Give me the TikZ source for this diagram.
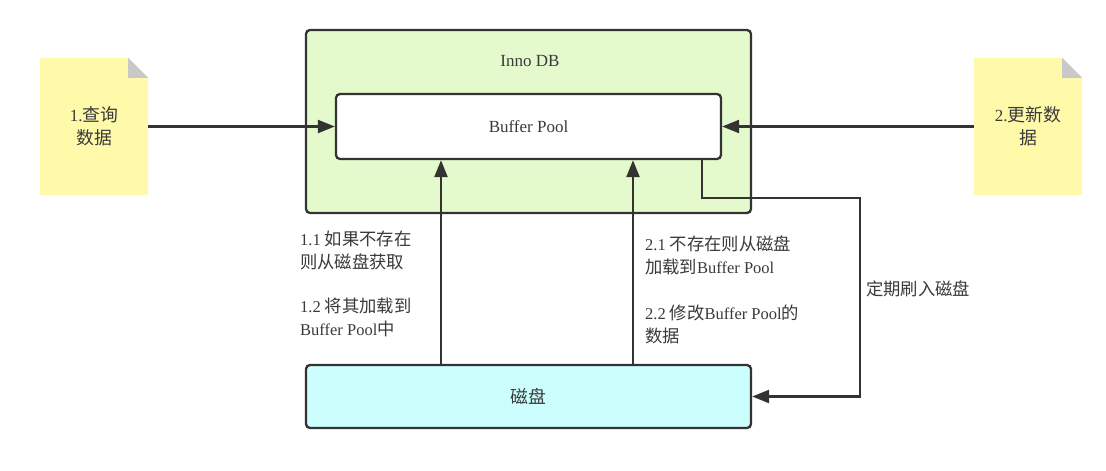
\documentclass[tikz,border=0pt]{standalone}
\usepackage{fontspec}
\setmainfont{Liberation Serif}
\newfontfamily\cjk{Noto Sans CJK SC}[Scale=1.05]
\usetikzlibrary{arrows.meta,backgrounds}
\definecolor{linec}{HTML}{333333}
\definecolor{textc}{HTML}{3A3A3A}
\definecolor{greenf}{HTML}{E4FACD}
\definecolor{cyanf}{HTML}{CCFEFE}
\definecolor{notef}{HTML}{FFF9AA}
\definecolor{foldf}{HTML}{C8C8C8}
\tikzset{
  box/.style={draw=linec, line width=2.3pt, rounded corners=4pt, text=textc, font=\fontsize{17}{20}\selectfont},
  notebox/.style={minimum width=108pt, minimum height=137pt, inner sep=0pt, text=textc, align=center, font=\fontsize{17}{23}\selectfont},
  lbl/.style={text=textc, align=left, inner sep=0pt, font=\fontsize{16.5}{23}\selectfont},
  arr/.style={draw=linec, line width=2.3pt, -{Triangle[length=17pt,width=13pt]}},
}
\begin{document}
\begin{tikzpicture}[x=1pt,y=1pt]
\useasboundingbox (0,0) rectangle (1106,-471);
% containers
\node[box, fill=greenf, minimum width=445pt, minimum height=183pt] (innodb) at (528.5,-121.5) {};
\node[text=textc, font=\fontsize{17}{20}\selectfont] (title) at (530,-61) {Inno DB};
\node[box, fill=white, minimum width=385pt, minimum height=65pt] (bp) at (528.5,-126.5) {Buffer Pool};
\node[box, fill=cyanf, minimum width=445pt, minimum height=63pt] (disk) at (528.5,-396.5) {\cjk 磁盘};
% notes
\node[notebox] (noteq) at (94,-126.5) {1.{\cjk 查询}\\{\cjk 数据}};
\node[notebox] (noteu) at (1028,-126.5) {2.{\cjk 更新数}\\{\cjk 据}};
\begin{scope}[on background layer]
  \fill[white] (0,0) rectangle (1106,-471);
  \foreach \n in {noteq,noteu}{
    \fill[notef] (\n.south west) -- (\n.north west) -- ([xshift=-20pt]\n.north east) -- ([yshift=-20pt]\n.north east) -- (\n.south east) -- cycle;
    \fill[foldf] ([xshift=-20pt]\n.north east) -- ([yshift=-20pt]\n.north east) -- ([xshift=-20pt,yshift=-20pt]\n.north east) -- cycle;
  }
\end{scope}
% connectors
\draw[arr] (noteq.east) -- (bp.west);
\draw[arr] (noteu.west) -- (bp.east);
\coordinate (c1) at (441,0);
\coordinate (c2) at (633,0);
\draw[arr] (c1 |- disk.north) -- (c1 |- bp.south);
\draw[arr] (c2 |- disk.north) -- (c2 |- bp.south);
\coordinate (f1) at (702,-198);
\coordinate (f2) at (860,-198);
\draw[arr] (f1 |- bp.south) -- (f1) -- (f2) -- (f2 |- disk.east) -- (disk.east);
% labels
\node[lbl, anchor=north west] (l1) at (300,-231) {1.1 {\cjk 如果不存在}\\{\cjk 则从磁盘获取}\\[21pt]1.2 {\cjk 将其加载到}\\Buffer Pool{\cjk 中}};
\node[lbl, anchor=north west] (l2) at (645,-236) {2.1 {\cjk 不存在则从磁盘}\\{\cjk 加载到}Buffer Pool\\[23pt]2.2 {\cjk 修改}Buffer Pool{\cjk 的}\\{\cjk 数据}};
\node[lbl, anchor=west] (l3) at (866,-289) {\cjk 定期刷入磁盘};
\end{tikzpicture}
\end{document}
